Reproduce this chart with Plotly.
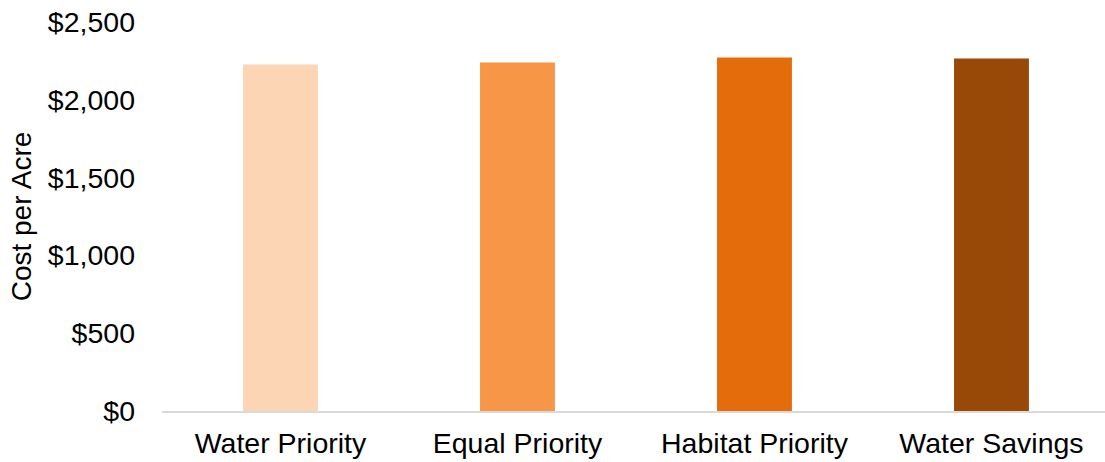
import plotly.graph_objects as go

# Cost per acre by prioritisation scenario
scenarios = ["Water Priority", "Equal Priority", "Habitat Priority", "Water Savings"]
cost_per_acre = [2227, 2240, 2272, 2265]
bar_colors = ["#FCD5B5", "#F79646", "#E46C0A", "#984807"]

y_ticks = [0, 500, 1000, 1500, 2000, 2500]
y_tick_text = ["$0", "$500", "$1,000", "$1,500", "$2,000", "$2,500"]

font_family = "Liberation Sans, Arial, sans-serif"

fig = go.Figure(
    go.Bar(
        x=scenarios,
        y=cost_per_acre,
        marker=dict(color=bar_colors, line=dict(width=0)),
        width=0.316,
        hoverinfo="x+y",
    )
)

fig.update_layout(
    width=1105,
    height=462,
    margin=dict(l=162, r=0, t=22, b=51),
    paper_bgcolor="white",
    plot_bgcolor="white",
    showlegend=False,
    font=dict(family=font_family, size=28, color="#000000"),
    xaxis=dict(
        range=[-0.5, 3.479],
        showline=True,
        linecolor="#D9D9D9",
        linewidth=2,
        showgrid=False,
        ticks="",
        tickfont=dict(size=28.5),
        ticklabelstandoff=6,
        automargin=False,
    ),
    yaxis=dict(
        range=[0, 2500],
        tickvals=y_ticks,
        ticktext=y_tick_text,
        showgrid=False,
        zeroline=False,
        showline=False,
        ticks="",
        tickfont=dict(size=28.5),
        ticklabelstandoff=26,
        automargin=False,
        title=dict(text="Cost per Acre", font=dict(size=28), standoff=8),
    ),
)

fig.write_html("out.html")
